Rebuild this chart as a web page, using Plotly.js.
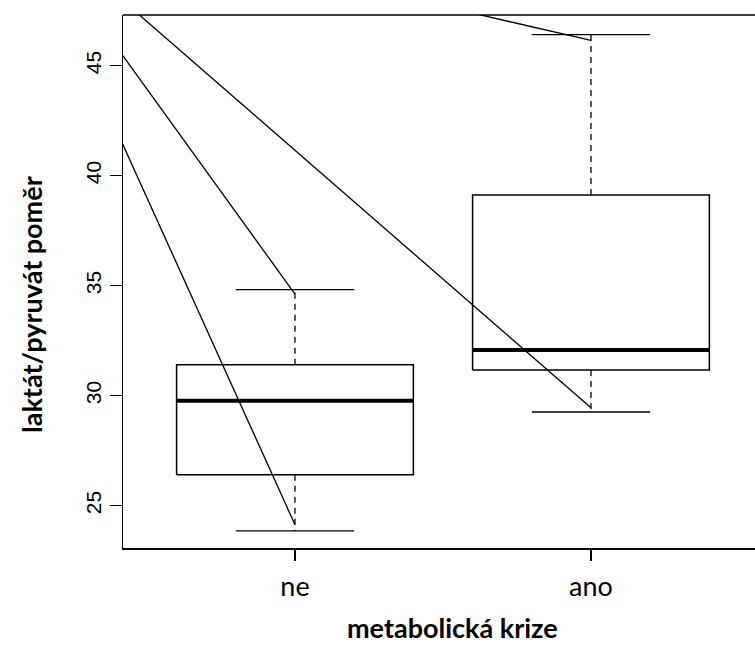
<!DOCTYPE html>
<html>
<head>
<meta charset="utf-8">
<script src="https://cdn.plot.ly/plotly-3.0.1.min.js"></script>
<style>html,body{margin:0;padding:0;background:#fff;overflow:hidden;width:755px;height:646px;}#chart{width:790px;height:646px;}</style>
</head>
<body>
<div id="chart"></div>
<script>
// ---- data ----
var categories = ["ne", "ano"];
var catPos = [1, 2];
var lowerWhisker = [23.86, 29.26];
var q1 = [26.41, 31.17];
var median = [29.77, 32.08];
var q3 = [31.41, 39.12];
var upperWhisker = [34.82, 46.41];
var yTicks = [25, 30, 35, 40, 45];

// overlaid segments: start (x, y) and end (category index, y)
var segStartX = [0, 0, 0, 0];
var segStartY = [53.85, 53.24, 52.85, 52.33];
var segEndCat = [0, 0, 1, 1];
var segEndY = [24.14, 34.62, 29.45, 46.15];

// ---- styles ----
var boxHalf = 0.4, capHalf = 0.2;
var traces = [];
var thin = {color: "#000", width: 1.3};

for (var i = 0; i < categories.length; i++) {
  var c = catPos[i];
  traces.push({type: "scatter", mode: "lines", hoverinfo: "skip", showlegend: false,
    x: [c - boxHalf, c + boxHalf, c + boxHalf, c - boxHalf, c - boxHalf],
    y: [q1[i], q1[i], q3[i], q3[i], q1[i]], line: {color: "#000", width: 1.5}});
  traces.push({type: "scatter", mode: "lines", hoverinfo: "skip", showlegend: false,
    x: [c - boxHalf, c + boxHalf], y: [median[i], median[i]], line: {color: "#000", width: 4}});
  traces.push({type: "scatter", mode: "lines", hoverinfo: "skip", showlegend: false,
    x: [c, c, null, c, c], y: [q3[i], upperWhisker[i], null, q1[i], lowerWhisker[i]],
    line: {color: "#000", width: 1.3, dash: "6px,5px"}});
  traces.push({type: "scatter", mode: "lines", hoverinfo: "skip", showlegend: false,
    x: [c - capHalf, c + capHalf, null, c - capHalf, c + capHalf],
    y: [upperWhisker[i], upperWhisker[i], null, lowerWhisker[i], lowerWhisker[i]],
    line: thin});
}
for (var j = 0; j < segStartX.length; j++) {
  traces.push({type: "scatter", mode: "lines", hoverinfo: "skip", showlegend: false,
    x: [segStartX[j], catPos[segEndCat[j]]], y: [segStartY[j], segEndY[j]], line: thin});
}

// plot area spans 123..781 px (right part is outside the 755 px window)
var plotW = 781 - 123, plotH = 548 - 15;
var layout = {
  width: 790, height: 646,
  margin: {l: 123, r: 9, t: 15, b: 98},
  paper_bgcolor: "#fff", plot_bgcolor: "#fff",
  showlegend: false,
  xaxis: {
    range: [0.419, 2.642], showgrid: false, zeroline: false,
    tickmode: "array", tickvals: catPos, ticktext: categories,
    ticks: "outside", ticklen: 11, tickwidth: 1.3, tickcolor: "#000",
    ticklabelstandoff: 3,
    showline: true, mirror: false, linecolor: "#000", linewidth: 1.5,
    tickfont: {family: "Lato, 'Open Sans', sans-serif", size: 27, color: "#000"}
  },
  yaxis: {
    range: [23.08, 47.30], showgrid: false, zeroline: false,
    tickmode: "array", tickvals: yTicks, ticktext: yTicks.map(String),
    ticks: "outside", ticklen: 12, tickwidth: 1.3, tickcolor: "#000",
    showline: true, mirror: false, linecolor: "#000", linewidth: 1.5,
    tickangle: -90,
    tickfont: {family: "'Liberation Sans', Arial, sans-serif", size: 21, color: "#000"}
  },
  shapes: [
    {type: "line", xref: "paper", yref: "paper", x0: 0, x1: 1, y0: 1, y1: 1,
     line: {color: "#000", width: 1.5}}
  ],
  annotations: [
    {text: "<b>metabolická krize</b>", xref: "paper", yref: "paper", x: (452 - 123) / plotW, y: -(627 - 548) / plotH,
     xanchor: "center", yanchor: "middle", showarrow: false, borderpad: 0,
     font: {family: "Lato, 'Open Sans', sans-serif", size: 27, color: "#000"}},
    {text: "<b>laktát/pyruvát poměr</b>", xref: "paper", yref: "paper", x: -(123 - 31) / plotW, y: (548 - 305) / plotH,
     xanchor: "center", yanchor: "middle", showarrow: false, textangle: -90,
     font: {family: "Lato, 'Open Sans', sans-serif", size: 27, color: "#000"}}
  ]
};

Plotly.newPlot("chart", traces, layout, {staticPlot: true, displayModeBar: false});
</script>
</body>
</html>
